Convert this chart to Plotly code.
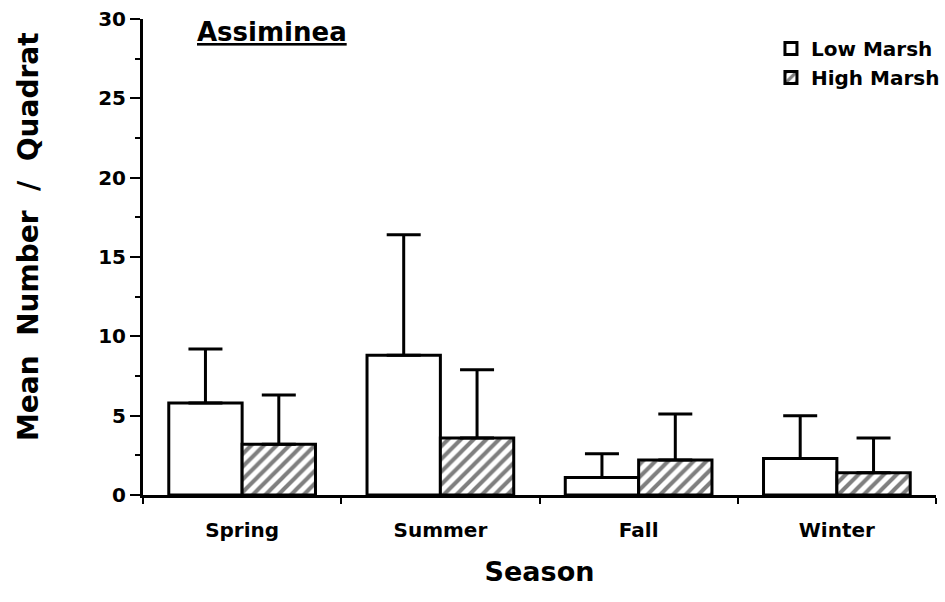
import plotly.graph_objects as go

seasons = ["Spring", "Summer", "Fall", "Winter"]
low_mean = [5.8, 8.8, 1.1, 2.3]
low_err = [3.4, 7.6, 1.5, 2.7]
high_mean = [3.2, 3.6, 2.2, 1.4]
high_err = [3.1, 4.3, 2.9, 2.2]
y_ticks = [0, 5, 10, 15, 20, 25, 30]

FONT = "DejaVu Sans, Arial, sans-serif"

fig = go.Figure()
fig.add_trace(go.Bar(
    x=seasons, y=low_mean, name="<b>Low Marsh</b>",
    marker=dict(color="white", line=dict(color="black", width=3)),
    error_y=dict(type="data", array=low_err, arrayminus=[0] * 4, symmetric=False,
                 color="black", thickness=3, width=17),
))
fig.add_trace(go.Bar(
    x=seasons, y=high_mean, name="<b>High Marsh</b>",
    marker=dict(color="white", line=dict(color="black", width=3),
                pattern=dict(shape="/", fgcolor="black", bgcolor="white", size=9, solidity=0.45)),
    error_y=dict(type="data", array=high_err, arrayminus=[0] * 4, symmetric=False,
                 color="black", thickness=3, width=17),
))

fig.update_layout(
    width=945, height=602,
    margin=dict(l=143, r=9, t=19, b=107, autoexpand=False),
    paper_bgcolor="white", plot_bgcolor="white",
    barmode="group", bargap=0.26, bargroupgap=0,
    font=dict(family=FONT, color="black"),
    showlegend=True,
    legend=dict(x=1.0113, y=0.979, xanchor="right", yanchor="top",
                font=dict(size=20, family=FONT, color="black"),
                bgcolor="rgba(0,0,0,0)"),
    xaxis=dict(
        showline=True, linecolor="black", linewidth=3,
        ticks="outside", tickson="boundaries", ticklen=6, tickwidth=2, tickcolor="black",
        ticklabelstandoff=15,
        tickfont=dict(size=20, family=FONT, color="black"),
        ticktext=[f"<b>{s}</b>" for s in seasons], tickvals=seasons,
        title=dict(text="<b>Season</b>", font=dict(size=27, family=FONT), standoff=22),
        showgrid=False, zeroline=False,
    ),
    yaxis=dict(
        range=[0, 30], tickvals=y_ticks, ticktext=[f"<b>{v}</b>" for v in y_ticks],
        showline=True, linecolor="black", linewidth=3,
        ticks="outside", ticklen=10, tickwidth=2, tickcolor="black",
        minor=dict(dtick=2.5, ticks="outside", ticklen=5, tickwidth=2, tickcolor="black", showgrid=False),
        tickfont=dict(size=20, family=FONT, color="black"),
        showgrid=False, zeroline=False,
    ),
    annotations=[
        dict(text="<b><u>Assiminea</u></b>", x=0.066, y=1.008, xref="paper", yref="paper",
             xanchor="left", yanchor="top", showarrow=False,
             font=dict(size=26, family=FONT, color="black")),
        dict(text="<b>Mean  Number  /  Quadrat</b>", x=-0.145, y=0.542, xref="paper", yref="paper",
             xanchor="center", yanchor="middle", textangle=-90, showarrow=False,
             font=dict(size=28, family=FONT, color="black")),
    ],
)

fig.write_html("out.html", config={"displayModeBar": False},
               post_script="document.body.style.margin='0';document.body.style.overflow='hidden';")
